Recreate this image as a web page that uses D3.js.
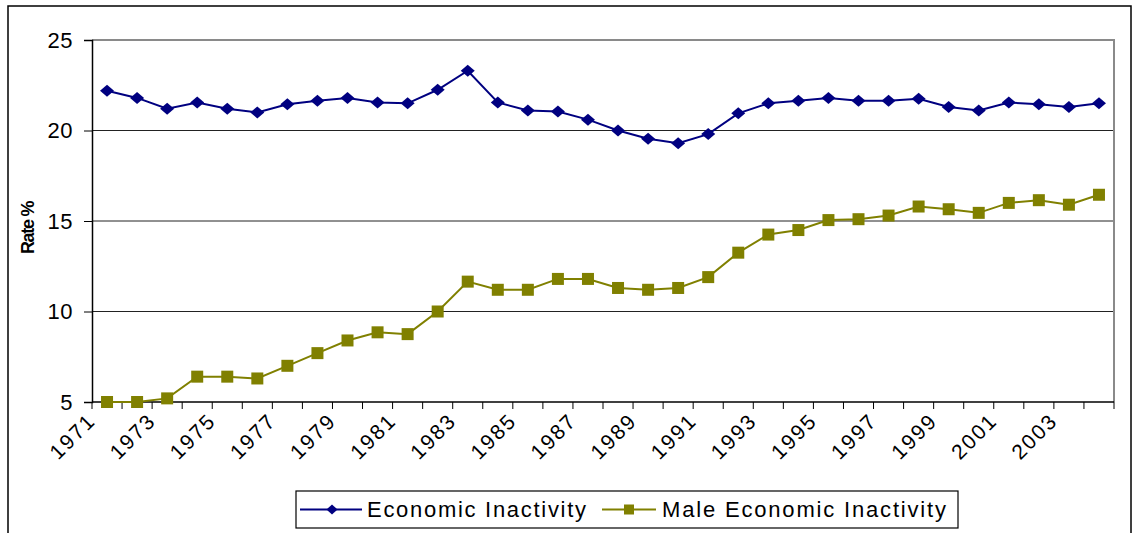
<!DOCTYPE html>
<html>
<head>
<meta charset="utf-8">
<script src="https://cdn.jsdelivr.net/npm/d3@7"></script>
<style>
  body { margin: 0; background: #fff; }
  #chart { width: 1132px; height: 533px; }
  text { font-family: "Liberation Sans", Arial, sans-serif; }
</style>
</head>
<body>
<div id="chart"></div>
<script>
// data
var years = ["1971","1972","1973","1974","1975","1976","1977","1978","1979","1980",
    "1981","1982","1983","1984","1985","1986","1987","1988","1989","1990",
    "1991","1992","1993","1994","1995","1996","1997","1998","1999","2000",
    "2001","2002","2003","2004"];

var econInactivity = [22.2, 21.8, 21.2, 21.55, 21.2, 21.0, 21.45, 21.65, 21.8, 21.55,
    21.5, 22.25, 23.3, 21.55, 21.1, 21.05, 20.6, 20.0, 19.55, 19.3,
    19.8, 20.95, 21.5, 21.65, 21.8, 21.65, 21.65, 21.75, 21.3, 21.1,
    21.55, 21.45, 21.3, 21.5];

var maleInactivity = [5.0, 5.0, 5.2, 6.4, 6.4, 6.3, 7.0, 7.7, 8.4, 8.85,
    8.75, 10.0, 11.65, 11.2, 11.2, 11.8, 11.8, 11.3, 11.2, 11.3,
    11.9, 13.25, 14.25, 14.5, 15.05, 15.1, 15.3, 15.8, 15.65, 15.45,
    16.0, 16.15, 15.9, 16.45];

var yTicks = [5, 10, 15, 20, 25];
var seriesNames = ["Economic Inactivity", "Male Economic Inactivity"];

var width = 1132, height = 533;
var plotLeft = 92, plotRight = 1114, plotTop = 40, plotBottom = 402;

var svg = d3.select("#chart")
    .append("svg")
    .attr("width", width)
    .attr("height", height);

// outer chart frame
svg.append("rect")
    .attr("x", 8).attr("y", 6)
    .attr("width", 1123).attr("height", 540)
    .attr("fill", "none")
    .attr("stroke", "#000")
    .attr("stroke-width", 1.5);

var x = d3.scaleBand()
    .domain(years)
    .range([plotLeft, plotRight]);

var y = d3.scaleLinear()
    .domain([5, 25])
    .range([plotBottom, plotTop]);

// gridlines
svg.selectAll("line.grid")
    .data(yTicks.slice(1, -1))
    .enter()
    .append("line")
    .attr("class", "grid")
    .attr("x1", plotLeft).attr("x2", plotRight)
    .attr("y1", function(d) { return y(d); })
    .attr("y2", function(d) { return y(d); })
    .attr("stroke", "#222")
    .attr("stroke-width", 1);

// plot border top and right (grey)
svg.append("path")
    .attr("d", "M" + plotLeft + "," + y(25) + "H" + plotRight + "V" + plotBottom)
    .attr("fill", "none")
    .attr("stroke", "#8a8a8a")
    .attr("stroke-width", 2);

// y axis
var yAxis = svg.append("g")
    .attr("transform", "translate(" + plotLeft + ",0)")
    .call(d3.axisLeft(y).tickValues(yTicks).tickSize(8).tickPadding(11));
yAxis.select(".domain").attr("stroke", "#000").attr("stroke-width", 1.5);
yAxis.selectAll(".tick line").attr("stroke", "#000");
yAxis.selectAll(".tick text")
    .attr("font-size", "22px")
    .attr("letter-spacing", "0.5px")
    .attr("fill", "#000")
    .attr("font-family", "Liberation Sans, Arial, sans-serif");

// x axis: ticks on category boundaries
var xAxisG = svg.append("g");
xAxisG.append("line")
    .attr("x1", plotLeft).attr("x2", plotRight)
    .attr("y1", plotBottom).attr("y2", plotBottom)
    .attr("stroke", "#000").attr("stroke-width", 1.5);
var bounds = years.map(function(d) { return x(d); }).concat([plotRight]);
xAxisG.selectAll("line.xt")
    .data(bounds)
    .enter()
    .append("line")
    .attr("class", "xt")
    .attr("x1", function(d) { return d; })
    .attr("x2", function(d) { return d; })
    .attr("y1", plotBottom).attr("y2", plotBottom + 7)
    .attr("stroke", "#000");

xAxisG.selectAll("text")
    .data(years.filter(function(d, i) { return i % 2 === 0; }))
    .enter()
    .append("text")
    .attr("transform", function(d) {
        return "translate(" + (x(d) + 5) + "," + (plotBottom + 20) + ") rotate(-45)";
    })
    .attr("text-anchor", "end")
    .attr("font-size", "21px")
    .attr("letter-spacing", "2px")
    .attr("fill", "#000")
    .text(function(d) { return d; });

// y title
svg.append("text")
    .attr("transform", "translate(34,228) rotate(-90)")
    .attr("text-anchor", "middle")
    .attr("font-size", "18px")
    .attr("font-weight", "bold")
    .attr("letter-spacing", "-1.3px")
    .text("Rate %");

var line = d3.line()
    .x(function(d, i) { return x(years[i]) + x.bandwidth() / 2; })
    .y(function(d) { return y(d); });

// male series
svg.append("path")
    .datum(maleInactivity)
    .attr("d", line)
    .attr("fill", "none")
    .attr("stroke", "#808000")
    .attr("stroke-width", 2);

svg.selectAll("rect.male")
    .data(maleInactivity)
    .enter()
    .append("rect")
    .attr("class", "male")
    .attr("x", function(d, i) { return x(years[i]) + x.bandwidth() / 2 - 6; })
    .attr("y", function(d) { return y(d) - 6; })
    .attr("width", 12).attr("height", 12)
    .attr("fill", "#808000");

// economic inactivity series
svg.append("path")
    .datum(econInactivity)
    .attr("d", line)
    .attr("fill", "none")
    .attr("stroke", "#000080")
    .attr("stroke-width", 2);

function diamond(cx, cy, w, h) {
    return "M" + cx + "," + (cy - h) + "L" + (cx + w) + "," + cy +
        "L" + cx + "," + (cy + h) + "L" + (cx - w) + "," + cy + "Z";
}

svg.selectAll("path.econ")
    .data(econInactivity)
    .enter()
    .append("path")
    .attr("class", "econ")
    .attr("d", function(d, i) {
        return diamond(x(years[i]) + x.bandwidth() / 2, y(d), 7, 6);
    })
    .attr("fill", "#000080");

// legend
var legend = svg.append("g");
legend.append("rect")
    .attr("x", 296).attr("y", 491)
    .attr("width", 662).attr("height", 37)
    .attr("fill", "#fff")
    .attr("stroke", "#000")
    .attr("stroke-width", 1.2);

legend.append("line")
    .attr("x1", 300).attr("x2", 362)
    .attr("y1", 509.5).attr("y2", 509.5)
    .attr("stroke", "#000080").attr("stroke-width", 2);
legend.append("path")
    .attr("d", diamond(332, 509.5, 5.5, 5))
    .attr("fill", "#000080");
legend.append("text")
    .attr("x", 367).attr("y", 517)
    .attr("font-size", "22px")
    .attr("textLength", 219)
    .attr("lengthAdjust", "spacing")
    .text(seriesNames[0]);

legend.append("line")
    .attr("x1", 602).attr("x2", 656)
    .attr("y1", 509.5).attr("y2", 509.5)
    .attr("stroke", "#808000").attr("stroke-width", 2);
legend.append("rect")
    .attr("x", 624).attr("y", 504.5)
    .attr("width", 10).attr("height", 10)
    .attr("fill", "#808000");
legend.append("text")
    .attr("x", 662).attr("y", 517)
    .attr("font-size", "22px")
    .attr("textLength", 284)
    .attr("lengthAdjust", "spacing")
    .text(seriesNames[1]);
</script>
</body>
</html>
